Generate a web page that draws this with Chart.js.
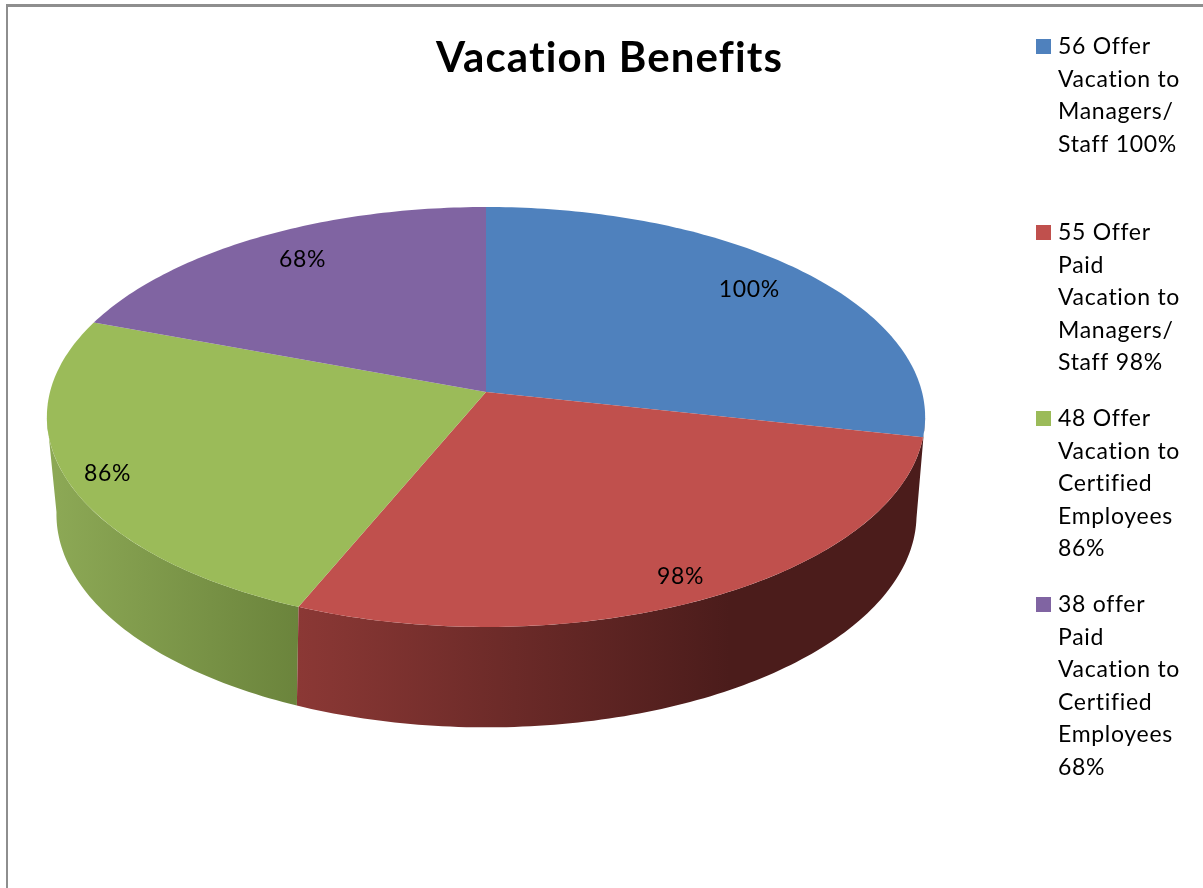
<!DOCTYPE html>
<html>
<head>
<meta charset="utf-8">
<title>Vacation Benefits</title>
<script src="https://cdn.jsdelivr.net/npm/chart.js@4"></script>
<style>
    html, body { margin: 0; background: #fff; overflow: hidden; }
    #wrap { position: relative; width: 1203px; height: 888px; overflow: hidden; }
    #frame { position: absolute; left: 6px; top: 4px; width: 1400px; height: 1100px;
             border-left: 2px solid #8e8e8e; border-top: 3px solid #8e8e8e; }
    canvas { position: absolute; left: 0; top: 0; }
</style>
</head>
<body>
<div id="wrap">
    <div id="frame"></div>
    <canvas id="pie" width="1203" height="888"></canvas>
</div>
<script>
const categories = [
    '56 Offer Vacation to Managers/ Staff 100%',
    '55 Offer Paid Vacation to Managers/ Staff 98%',
    '48 Offer Vacation to Certified Employees 86%',
    '38 offer Paid Vacation to Certified Employees 68%'
];
const values = [100, 98, 86, 68];
const valueLabels = ['100%', '98%', '86%', '68%'];
const legendLines = [
    ['56 Offer', 'Vacation to', 'Managers/', 'Staff 100%'],
    ['55 Offer', 'Paid', 'Vacation to', 'Managers/', 'Staff 98%'],
    ['48 Offer', 'Vacation to', 'Certified', 'Employees', '86%'],
    ['38 offer', 'Paid', 'Vacation to', 'Certified', 'Employees', '68%']
];
const colors = ['#4f81bd', '#c0504d', '#9bbb59', '#8064a2'];

const FONT = 'Lato, "Open Sans", sans-serif';

// perspective of the tilted disc: top face and bottom rim
const top3d = { x: 486, y: 392, a: 436, b: 207, k: 0.119, rot: 0 };
const bottom3d = { x: 486.5, y: 489, a: 427, b: 210, k: 0.119, rot: 0.8 * Math.PI / 180 };

// theta is clockwise from 12 o'clock, f is the fraction of the radius
function project(p, theta, f) {
    const u = f * Math.sin(theta + p.rot);
    const v = -f * Math.cos(theta + p.rot);
    const d = 1 - p.k * v;
    return [p.x + p.a * u / d, p.y + p.b * v / d];
}

function arcPoints(p, from, to) {
    const pts = [];
    const steps = Math.max(8, Math.ceil(Math.abs(to - from) * 60));
    for (let i = 0; i <= steps; i++) {
        pts.push(project(p, from + (to - from) * i / steps, 1));
    }
    return pts;
}

function trace(ctx, pts) {
    pts.forEach((pt, i) => i ? ctx.lineTo(pt[0], pt[1]) : ctx.moveTo(pt[0], pt[1]));
}

const deg = Math.PI / 180;

const disc3d = {
    id: 'disc3d',
    beforeDraw(chart) {
        // Lato runs narrower than the original face, title picks this up
        chart.ctx.letterSpacing = '1.1px';
    },
    // the arcs come from the library, only their painting is replaced
    beforeDatasetDraw(chart) {
        const ctx = chart.ctx;
        const arcs = chart.getDatasetMeta(0).data;
        const angle = a => a + Math.PI / 2;

        // walls stop where the rim turns away from the viewer
        const walls = [
            { from: angle(arcs[2].startAngle), to: 263 * deg, c0: '#8ca855', c1: '#6b843c', x0: 56, x1: 298 },
            { from: 97 * deg, to: angle(arcs[1].endAngle), c0: '#8b3835', c1: '#4b1c1b', x0: 298, x1: 730 }
        ];
        walls.forEach(w => {
            const g = ctx.createLinearGradient(w.x0, 0, w.x1, 0);
            g.addColorStop(0, w.c0);
            g.addColorStop(1, w.c1);
            ctx.beginPath();
            trace(ctx, arcPoints(top3d, w.from, w.to));
            arcPoints(bottom3d, w.to, w.from).forEach(pt => ctx.lineTo(pt[0], pt[1]));
            ctx.closePath();
            ctx.fillStyle = g;
            ctx.fill();
        });

        arcs.forEach((arc, i) => {
            ctx.beginPath();
            ctx.moveTo(top3d.x, top3d.y);
            arcPoints(top3d, angle(arc.startAngle), angle(arc.endAngle)).forEach(pt => ctx.lineTo(pt[0], pt[1]));
            ctx.closePath();
            ctx.fillStyle = colors[i];
            ctx.fill();
        });
        return false;
    },
    afterDatasetsDraw(chart) {
        const ctx = chart.ctx;
        const arcs = chart.getDatasetMeta(0).data;
        const nudge = [[7, -4], [18, 24], [-46, 13], [1, -6]];

        ctx.save();
        ctx.letterSpacing = '0.7px';
        ctx.font = '23px ' + FONT;
        ctx.fillStyle = '#000';
        ctx.textAlign = 'center';
        ctx.textBaseline = 'middle';
        arcs.forEach((arc, i) => {
            const mid = (arc.startAngle + arc.endAngle) / 2 + Math.PI / 2;
            const pt = project(top3d, mid, 0.8);
            ctx.fillText(valueLabels[i], pt[0] + nudge[i][0], pt[1] + nudge[i][1]);
        });

        // legend blocks sit on a fixed pitch whatever their line count
        ctx.textAlign = 'left';
        ctx.textBaseline = 'alphabetic';
        legendLines.forEach((lines, i) => {
            const y = 54 + i * 186;
            ctx.fillStyle = colors[i];
            ctx.fillRect(1036, y - 15, 15, 15);
            ctx.fillStyle = '#000';
            lines.forEach((line, j) => ctx.fillText(line, 1058, y + j * 32.6));
        });
        ctx.restore();
    }
};

new Chart(document.getElementById('pie'), {
    type: 'pie',
    data: {
        labels: categories,
        datasets: [{ data: values, backgroundColor: colors, borderWidth: 0 }]
    },
    options: {
        responsive: false,
        animation: false,
        layout: { padding: { left: 16, top: 33 } },
        plugins: {
            legend: { display: false },
            tooltip: { enabled: false },
            title: {
                display: true,
                text: 'Vacation Benefits',
                color: '#000',
                font: { family: FONT, size: 42, weight: 'bold' },
                padding: 0
            }
        }
    },
    plugins: [disc3d]
});
</script>
</body>
</html>
